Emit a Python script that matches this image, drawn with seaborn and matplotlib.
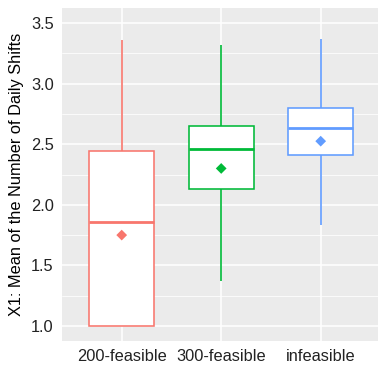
import numpy as np
import pandas as pd
import matplotlib
matplotlib.use("Agg")
import matplotlib.pyplot as plt
import seaborn as sns
from matplotlib.ticker import MultipleLocator

# ---- data ----
categories = ["200-feasible", "300-feasible", "infeasible"]
whisker_low = [1.00, 1.37, 1.83]
q1 = [1.00, 2.13, 2.41]
median = [1.86, 2.46, 2.63]
q3 = [2.44, 2.65, 2.80]
whisker_high = [3.36, 3.32, 3.365]
means = [1.75, 2.30, 2.525]
y_ticks = [1.0, 1.5, 2.0, 2.5, 3.0, 3.5]
y_label = "X1: Mean of the Number of Daily Shifts"

colors = {"200-feasible": "#F8766D", "300-feasible": "#00BA38", "infeasible": "#619CFF"}

rows = []
for i, c in enumerate(categories):
    for v in (whisker_low[i], q1[i], median[i], q3[i], whisker_high[i]):
        rows.append({"group": c, "value": v})
df = pd.DataFrame(rows)
mdf = pd.DataFrame({"group": categories, "mean": means})

sns.set_theme(style="darkgrid")
plt.rcParams["font.family"] = ["Liberation Sans", "DejaVu Sans"]

W, H = 378, 365
fig = plt.figure(figsize=(W / 100, H / 100), dpi=100)
left, right, top, bottom = 62, 380.4, 8, 341
ax = fig.add_axes([left / W, (H - bottom) / H, (right - left) / W, (bottom - top) / H])
ax.set_facecolor("#EBEBEB")

for c in categories:
    sns.boxplot(data=df[df.group == c], x="group", y="value", order=categories,
                color="white", linecolor=colors[c], whis=(0, 100), width=0.65,
                linewidth=1.15, showcaps=False, showfliers=False,
                whiskerprops=dict(linewidth=1.2),
                medianprops=dict(linewidth=2.0), ax=ax)

sns.scatterplot(data=mdf, x="group", y="mean", hue="group", palette=colors,
                marker="D", s=30, linewidth=0, legend=False, ax=ax, zorder=5)

ax.set_xlim(-0.6, 2.6)
ax.set_ylim(0.876, 3.624)
ax.yaxis.set_major_locator(MultipleLocator(0.5))
ax.yaxis.set_minor_locator(MultipleLocator(0.25))
ax.set_yticks(y_ticks)
ax.set_yticklabels([f"{t:.1f}" for t in y_ticks])
ax.grid(True, which="major", color="white", linewidth=1.1)
ax.yaxis.grid(True, which="minor", color="white", linewidth=0.55)
ax.set_axisbelow(True)
for s in ax.spines.values():
    s.set_visible(False)

ax.tick_params(axis="both", which="major", length=3.5, width=0.8, color="#333333",
               labelsize=11.8, labelcolor="#222222", pad=2.5)
ax.tick_params(axis="y", which="minor", length=0)
ax.set_xlabel("")
ax.set_ylabel(y_label, fontsize=11.8, color="black", labelpad=5)

fig.savefig("out.png", dpi=100)
